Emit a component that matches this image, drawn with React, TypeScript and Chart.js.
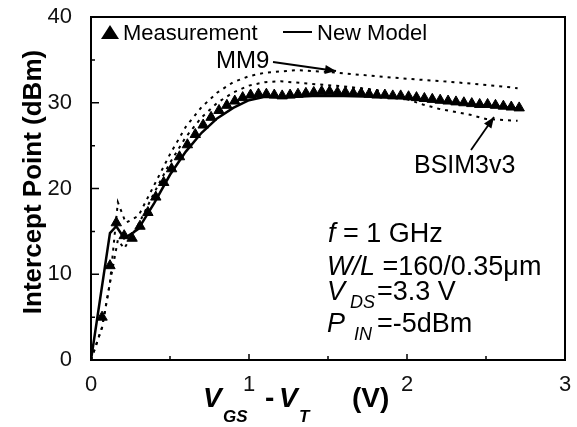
import React, { useEffect, useRef } from "react";
import { Chart, registerables } from "chart.js";

Chart.register(...registerables);

// ---- Data ----
const measX = [
  0.07, 0.12, 0.16, 0.21, 0.26, 0.31, 0.36, 0.41, 0.46, 0.51, 0.56, 0.61, 0.66, 0.71,
  0.76, 0.81, 0.86, 0.91, 0.96, 1.01, 1.06, 1.11, 1.16, 1.21, 1.26, 1.31, 1.36, 1.41,
  1.46, 1.51, 1.56, 1.61, 1.66, 1.71, 1.76, 1.81, 1.86, 1.91, 1.96, 2.01, 2.06, 2.11,
  2.16, 2.21, 2.26, 2.31, 2.36, 2.41, 2.46, 2.51, 2.56, 2.61, 2.66, 2.71,
];
const measY = [
  5.0, 11.0, 16.0, 14.5, 14.2, 15.6, 17.2, 19.0, 20.7, 22.3, 23.7, 25.1, 26.3, 27.4,
  28.3, 29.1, 29.7, 30.2, 30.6, 30.9, 31.0, 31.0, 30.9, 30.8, 30.9, 31.0, 31.1, 31.2,
  31.3, 31.3, 31.2, 31.2, 31.1, 31.1, 31.0, 30.9, 30.9, 30.8, 30.8, 30.7, 30.6, 30.5,
  30.4, 30.3, 30.2, 30.1, 30.0, 29.9, 29.8, 29.8, 29.7, 29.6, 29.5, 29.4,
];

const newModelX = [0, 0.12, 0.16, 0.21, 0.27, 0.3, 0.4, 0.5, 0.6, 0.7, 0.8, 0.9, 1.0, 1.1, 1.2, 1.4, 1.6, 1.8, 2.0, 2.2, 2.4, 2.6, 2.71];
const newModelY = [0, 14.8, 15.6, 14.2, 14.9, 15.3, 18.3, 21.6, 24.3, 26.5, 28.2, 29.4, 30.3, 30.7, 30.6, 30.8, 30.8, 30.7, 30.5, 30.1, 29.8, 29.5, 29.3];

const mm9X = [0, 0.07, 0.12, 0.17, 0.22, 0.3, 0.4, 0.5, 0.6, 0.7, 0.8, 0.9, 1.0, 1.1, 1.3, 1.5, 1.8, 2.0, 2.3, 2.6, 2.7];
const mm9Y = [0, 3.8, 9.0, 18.4, 16.0, 16.8, 20.4, 24.0, 27.2, 29.5, 31.2, 32.4, 33.1, 33.5, 33.8, 33.6, 33.1, 32.8, 32.4, 31.9, 31.7];

const bsimX = [0, 0.07, 0.12, 0.17, 0.21, 0.3, 0.4, 0.5, 0.6, 0.7, 0.8, 0.9, 1.0, 1.1, 1.2, 1.4, 1.6, 1.8, 1.9, 2.0, 2.1, 2.2, 2.4, 2.5, 2.7];
const bsimY = [0, 3.8, 9.0, 14.0, 13.0, 15.8, 19.5, 23.0, 26.0, 28.3, 30.0, 31.2, 32.0, 32.4, 32.5, 32.2, 31.9, 31.5, 31.0, 30.4, 29.8, 29.3, 28.6, 28.1, 27.9];

const xTicksMajor = [0, 1, 2, 3];
const xTicksMinor = [0.5, 1.5, 2.5];
const yTicksMajor = [10, 20, 30];
const yTicksMinor = [5, 15, 25, 35];

const toPts = (xs: number[], ys: number[]) => xs.map((x, i) => ({ x, y: ys[i] }));

const FONT = '"Liberation Sans", Arial, sans-serif';

function runs(ctx: CanvasRenderingContext2D, items: { t: string; f: string; x?: number; dy?: number }[], x0: number, base: number) {
  let x = x0;
  for (const it of items) {
    ctx.font = it.f;
    if (it.x !== undefined) x = it.x;
    ctx.fillText(it.t, x, base + (it.dy || 0));
    x += ctx.measureText(it.t).width;
  }
}

function arrow(ctx: CanvasRenderingContext2D, x1: number, y1: number, x2: number, y2: number) {
  ctx.beginPath();
  ctx.moveTo(x1, y1);
  ctx.lineTo(x2, y2);
  ctx.stroke();
  const a = Math.atan2(y2 - y1, x2 - x1);
  const L = 11, W = 4.5;
  ctx.beginPath();
  ctx.moveTo(x2, y2);
  ctx.lineTo(x2 - L * Math.cos(a) + W * Math.sin(a), y2 - L * Math.sin(a) - W * Math.cos(a));
  ctx.lineTo(x2 - L * Math.cos(a) - W * Math.sin(a), y2 - L * Math.sin(a) + W * Math.cos(a));
  ctx.closePath();
  ctx.fill();
}

const decor = {
  id: "decor",
  afterDraw(chart: any) {
    const ctx: CanvasRenderingContext2D = chart.ctx;
    const { left, right, top, bottom } = chart.chartArea;
    const xs = chart.scales.x, ys = chart.scales.y;
    ctx.save();
    ctx.strokeStyle = "#000";
    ctx.fillStyle = "#000";
    // frame
    ctx.lineWidth = 2;
    ctx.strokeRect(left, top, right - left, bottom - top);
    // ticks (inward)
    ctx.lineWidth = 1.5;
    ctx.beginPath();
    for (const v of xTicksMajor) { const p = xs.getPixelForValue(v); ctx.moveTo(p, bottom); ctx.lineTo(p, bottom - 6); }
    for (const v of xTicksMinor) { const p = xs.getPixelForValue(v); ctx.moveTo(p, bottom); ctx.lineTo(p, bottom - 4); }
    for (const v of yTicksMajor) { const p = ys.getPixelForValue(v); ctx.moveTo(left, p); ctx.lineTo(left + 8, p); }
    for (const v of yTicksMinor) { const p = ys.getPixelForValue(v); ctx.moveTo(left, p); ctx.lineTo(left + 4, p); }
    ctx.stroke();

    ctx.textBaseline = "alphabetic";
    ctx.textAlign = "left";
    // legend
    ctx.beginPath();
    ctx.moveTo(101, 39); ctx.lineTo(119, 39); ctx.lineTo(110, 25); ctx.closePath(); ctx.fill();
    ctx.font = `22px ${FONT}`;
    ctx.fillText("Measurement", 123, 40);
    ctx.lineWidth = 2;
    ctx.beginPath(); ctx.moveTo(283, 32); ctx.lineTo(312, 32); ctx.stroke();
    ctx.fillText("New Model", 317, 40);

    // annotations
    ctx.font = `24px ${FONT}`;
    ctx.fillText("MM9", 216, 68);
    ctx.lineWidth = 1.8;
    arrow(ctx, 273, 62, 336, 71);
    ctx.font = `25px ${FONT}`;
    ctx.fillText("BSIM3v3", 414, 173);
    arrow(ctx, 471, 150, 494, 117);

    // condition text
    const R = `27px ${FONT}`, I = `italic 27px ${FONT}`, S = `italic 18px ${FONT}`;
    runs(ctx, [{ t: "f", f: I }, { t: " = 1 GHz", f: R }], 328, 242);
    runs(ctx, [{ t: "W/L", f: I }, { t: " =160/0.35\u03bcm", f: R }], 327, 275);
    runs(ctx, [{ t: "V", f: I }, { t: "DS", f: S, x: 350, dy: 8 }, { t: "=3.3 V", f: R, x: 377 }], 327, 300);
    runs(ctx, [{ t: "P", f: I }, { t: "IN", f: S, x: 354, dy: 8 }, { t: "=-5dBm", f: R, x: 377 }], 327, 332);

    // x title
    const B = `bold italic 28px ${FONT}`, BS = `bold italic 17px ${FONT}`, BR = `bold 28px ${FONT}`;
    ctx.font = B; ctx.fillText("V", 203, 407);
    ctx.font = BS; ctx.fillText("GS", 223, 422);
    ctx.font = BR; ctx.fillText("-", 265, 407);
    ctx.font = B; ctx.fillText("V", 279, 407);
    ctx.font = BS; ctx.fillText("T", 299, 422);
    ctx.font = BR; ctx.fillText("(V)", 352, 407);

    // y title
    ctx.translate(34, 182);
    ctx.rotate(-Math.PI / 2);
    ctx.textAlign = "center";
    ctx.textBaseline = "middle";
    ctx.font = `bold 26px ${FONT}`;
    ctx.fillText("Intercept Point (dBm)", 0, 0);
    ctx.restore();
  },
};

export default function App() {
  const ref = useRef<HTMLCanvasElement>(null);
  useEffect(() => {
    if (!ref.current) return;
    const chart = new Chart(ref.current, {
      type: "scatter",
      data: {
        datasets: [
          { label: "MM9", data: toPts(mm9X, mm9Y), showLine: true, borderColor: "#000", borderWidth: 2, borderDash: [3, 5], pointRadius: 0, fill: false },
          { label: "BSIM3v3", data: toPts(bsimX, bsimY), showLine: true, borderColor: "#000", borderWidth: 2, borderDash: [3, 5], pointRadius: 0, fill: false },
          { label: "New Model", data: toPts(newModelX, newModelY), showLine: true, borderColor: "#000", borderWidth: 2.5, pointRadius: 0, fill: false },
          { label: "Measurement", data: toPts(measX, measY), showLine: false, pointStyle: "triangle", pointRadius: 6, backgroundColor: "#000", borderColor: "#000", borderWidth: 1 },
        ],
      },
      options: {
        animation: false,
        responsive: false,
        devicePixelRatio: 1,
        layout: { padding: { top: 17, right: 12, left: 0, bottom: 0 } },
        plugins: { legend: { display: false }, tooltip: { enabled: false } },
        scales: {
          x: {
            type: "linear", min: 0, max: 3,
            grid: { display: false, drawTicks: false },
            border: { display: false },
            ticks: { stepSize: 1, padding: 12, color: "#111", font: { family: FONT, size: 22 } },
            afterFit: (s: any) => { s.height = 67; s.paddingLeft = 0; s.paddingRight = 0; },
          },
          y: {
            min: 0, max: 40,
            grid: { display: false, drawTicks: false },
            border: { display: false },
            ticks: { stepSize: 10, padding: 19, color: "#111", font: { family: FONT, size: 22 } },
            afterFit: (s: any) => { s.width = 91; s.paddingTop = 0; s.paddingBottom = 0; },
          },
        },
      },
      plugins: [decor],
    });
    return () => chart.destroy();
  }, []);
  return (
    <div style={{ position: "fixed", left: 0, top: 0, width: 577, height: 427, background: "#fff" }}>
      <canvas ref={ref} width={577} height={427} />
    </div>
  );
}
